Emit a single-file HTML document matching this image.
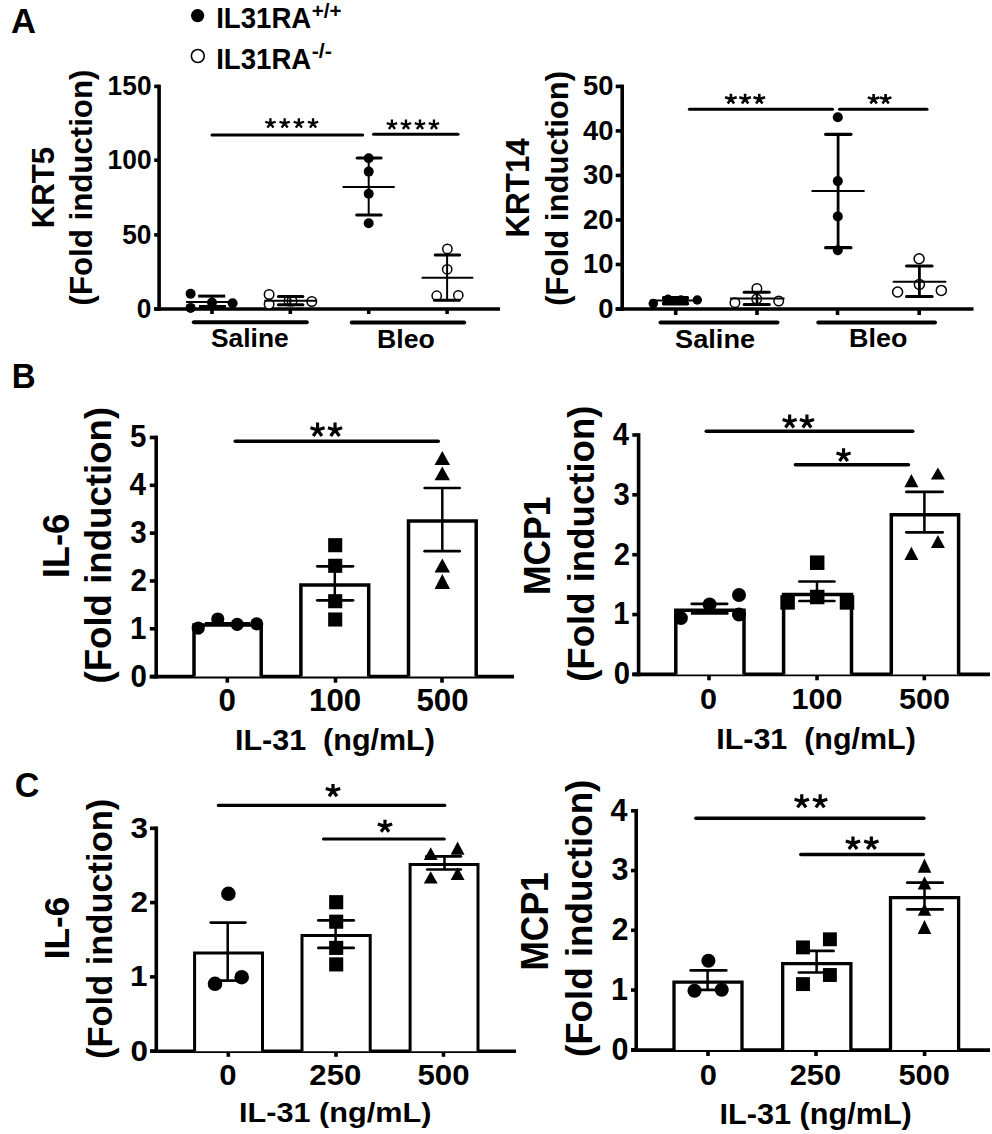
<!DOCTYPE html>
<html><head><meta charset="utf-8"><title>Figure</title>
<style>
html,body{margin:0;padding:0;background:#fff;}
body{width:992px;height:1134px;overflow:hidden;}
svg{display:block;}
text{font-family:"Liberation Sans",sans-serif;fill:#000;stroke:none;}
</style></head><body>
<svg width="992" height="1134" viewBox="0 0 992 1134">
<rect width="992" height="1134" fill="#fff"/>
<g stroke="#000" fill="none">
<text transform="translate(10.93,33) scale(1,1.0045)" font-size="34.63" font-weight="bold">A</text>
<text transform="translate(11.85,387.7) scale(1,1.0329)" font-size="33.11" font-weight="bold">B</text>
<text transform="translate(14.63,796.75) scale(1,1.0214)" font-size="34.2" font-weight="bold">C</text>
<circle cx="197.6" cy="15.6" r="6.65" fill="#000" stroke="none"/>
<circle cx="197.8" cy="56" r="6.45" fill="#fff" stroke-width="1.6"/>
<text transform="translate(216.21,28.11) scale(1,1.0563)" font-size="27.6" font-weight="bold">IL31RA</text>
<text transform="translate(311.77,17.69) scale(1,0.9941)" font-size="20.66" font-weight="bold">+/+</text>
<text transform="translate(216.21,68.71) scale(1,1.0512)" font-size="27.6" font-weight="bold">IL31RA</text>
<text transform="translate(311.74,58.49) scale(1,0.9665)" font-size="21.39" font-weight="bold">-/-</text>
<text transform="translate(54.18,228.33) rotate(-90) scale(1,1.0305)" font-size="31.19" font-weight="bold">KRT5</text>
<text transform="translate(91.75,305.46) rotate(-90) scale(1,0.9825)" font-size="31.24" font-weight="bold">(Fold induction)</text>
<line x1="159.1" y1="84.6" x2="159.1" y2="310.8" stroke-width="3.6" stroke-linecap="butt"/>
<line x1="154.2" y1="309" x2="500" y2="309" stroke-width="3.6" stroke-linecap="butt"/>
<line x1="154.2" y1="86.4" x2="159.1" y2="86.4" stroke-width="3.6" stroke-linecap="butt"/>
<line x1="154.2" y1="160.2" x2="159.1" y2="160.2" stroke-width="3.6" stroke-linecap="butt"/>
<line x1="154.2" y1="234.9" x2="159.1" y2="234.9" stroke-width="3.6" stroke-linecap="butt"/>
<line x1="154.2" y1="309" x2="159.1" y2="309" stroke-width="3.6" stroke-linecap="butt"/>
<text transform="translate(107.62,95.16) scale(1,1.0526)" font-size="26.33" font-weight="bold">150</text>
<text transform="translate(107.62,168.96) scale(1,1.0526)" font-size="26.33" font-weight="bold">100</text>
<text transform="translate(122.23,243.66) scale(1,1.0526)" font-size="26.33" font-weight="bold">50</text>
<text transform="translate(136.84,317.76) scale(1,1.0526)" font-size="26.33" font-weight="bold">0</text>
<line x1="212" y1="309" x2="212" y2="314" stroke-width="3.6" stroke-linecap="butt"/>
<line x1="290.3" y1="309" x2="290.3" y2="314" stroke-width="3.6" stroke-linecap="butt"/>
<line x1="368.7" y1="309" x2="368.7" y2="314" stroke-width="3.6" stroke-linecap="butt"/>
<line x1="447.1" y1="309" x2="447.1" y2="314" stroke-width="3.6" stroke-linecap="butt"/>
<line x1="193.8" y1="322.3" x2="306.8" y2="322.3" stroke-width="4" stroke-linecap="round"/>
<line x1="351.7" y1="322.5" x2="464.2" y2="322.5" stroke-width="4" stroke-linecap="round"/>
<text transform="translate(211.01,347.05) scale(1,0.9602)" font-size="26.35" font-weight="bold">Saline</text>
<text transform="translate(377.07,347.64) scale(1,0.9904)" font-size="26.65" font-weight="bold">Bleo</text>
<line x1="212" y1="135" x2="362.7" y2="135" stroke-width="3" stroke-linecap="round"/>
<line x1="373.5" y1="134.2" x2="458" y2="134.2" stroke-width="3" stroke-linecap="round"/>
<path d="M270.45 123.45V118.25M270.45 123.45L275.65 121.76M270.45 123.45L265.25 121.76M270.45 123.45L273.5 127.65M270.45 123.45L267.4 127.65" stroke-width="2.33"/>
<path d="M284.65 123.45V118.25M284.65 123.45L289.85 121.76M284.65 123.45L279.45 121.76M284.65 123.45L287.7 127.65M284.65 123.45L281.6 127.65" stroke-width="2.33"/>
<path d="M298.85 123.45V118.25M298.85 123.45L304.05 121.76M298.85 123.45L293.65 121.76M298.85 123.45L301.9 127.65M298.85 123.45L295.8 127.65" stroke-width="2.33"/>
<path d="M313.05 123.45V118.25M313.05 123.45L318.25 121.76M313.05 123.45L307.85 121.76M313.05 123.45L316.1 127.65M313.05 123.45L310 127.65" stroke-width="2.33"/>
<path d="M391.95 124.75V119.55M391.95 124.75L397.15 123.06M391.95 124.75L386.75 123.06M391.95 124.75L395 128.95M391.95 124.75L388.9 128.95" stroke-width="2.33"/>
<path d="M405.95 124.75V119.55M405.95 124.75L411.15 123.06M405.95 124.75L400.75 123.06M405.95 124.75L409 128.95M405.95 124.75L402.9 128.95" stroke-width="2.33"/>
<path d="M419.95 124.75V119.55M419.95 124.75L425.15 123.06M419.95 124.75L414.75 123.06M419.95 124.75L423 128.95M419.95 124.75L416.9 128.95" stroke-width="2.33"/>
<path d="M433.95 124.75V119.55M433.95 124.75L439.15 123.06M433.95 124.75L428.75 123.06M433.95 124.75L437 128.95M433.95 124.75L430.9 128.95" stroke-width="2.33"/>
<circle cx="190.6" cy="293.8" r="5" fill="#000" stroke="none"/>
<circle cx="190.6" cy="307.9" r="5" fill="#000" stroke="none"/>
<circle cx="212" cy="302.6" r="5" fill="#000" stroke="none"/>
<circle cx="232.6" cy="303.3" r="5" fill="#000" stroke="none"/>
<line x1="198.2" y1="296.1" x2="225.2" y2="296.1" stroke-width="3" stroke-linecap="butt"/>
<line x1="186" y1="302" x2="235.8" y2="302" stroke-width="2" stroke-linecap="butt"/>
<line x1="199" y1="306.5" x2="226" y2="306.5" stroke-width="3" stroke-linecap="butt"/>
<line x1="212" y1="296" x2="212" y2="306.5" stroke-width="2.2" stroke-linecap="butt"/>
<circle cx="269.1" cy="294.5" r="4.75" fill="#fff" stroke-width="1.5"/>
<circle cx="269.1" cy="304.3" r="4.75" fill="#fff" stroke-width="1.5"/>
<circle cx="289" cy="301" r="4.75" fill="#fff" stroke-width="1.5"/>
<circle cx="292" cy="301" r="4.75" fill="#fff" stroke-width="1.5"/>
<circle cx="311.8" cy="301.5" r="4.75" fill="#fff" stroke-width="1.5"/>
<line x1="278.4" y1="296.4" x2="302.9" y2="296.4" stroke-width="3" stroke-linecap="round"/>
<line x1="264.2" y1="300.8" x2="316.4" y2="300.8" stroke-width="2" stroke-linecap="butt"/>
<line x1="278.4" y1="304.7" x2="302.9" y2="304.7" stroke-width="3" stroke-linecap="round"/>
<line x1="290.3" y1="296.4" x2="290.3" y2="304.7" stroke-width="2" stroke-linecap="butt"/>
<circle cx="368.7" cy="158.3" r="5" fill="#000" stroke="none"/>
<circle cx="368.7" cy="171.6" r="5" fill="#000" stroke="none"/>
<circle cx="368.7" cy="193.8" r="5" fill="#000" stroke="none"/>
<circle cx="368.7" cy="223.2" r="5" fill="#000" stroke="none"/>
<line x1="357.1" y1="158.1" x2="381.1" y2="158.1" stroke-width="3" stroke-linecap="round"/>
<line x1="343.3" y1="187.1" x2="394" y2="187.1" stroke-width="2" stroke-linecap="round"/>
<line x1="356.7" y1="215" x2="381.1" y2="215" stroke-width="3" stroke-linecap="round"/>
<line x1="368.7" y1="158" x2="368.7" y2="215" stroke-width="2" stroke-linecap="butt"/>
<circle cx="447.4" cy="248.9" r="4.65" fill="#fff" stroke-width="1.5"/>
<circle cx="447.2" cy="269.3" r="4.65" fill="#fff" stroke-width="1.5"/>
<circle cx="436.7" cy="295.7" r="4.65" fill="#fff" stroke-width="1.5"/>
<circle cx="458.3" cy="295.3" r="4.65" fill="#fff" stroke-width="1.5"/>
<line x1="435.2" y1="254.9" x2="459.6" y2="254.9" stroke-width="3" stroke-linecap="round"/>
<line x1="422.4" y1="277.7" x2="472.5" y2="277.7" stroke-width="2" stroke-linecap="round"/>
<line x1="434.5" y1="300.2" x2="459.2" y2="300.2" stroke-width="3" stroke-linecap="round"/>
<line x1="447.1" y1="254.9" x2="447.1" y2="300.2" stroke-width="2" stroke-linecap="butt"/>
<text transform="translate(528.7,237.54) rotate(-90) scale(1,1.0440)" font-size="31.37" font-weight="bold">KRT14</text>
<text transform="translate(567.86,305.86) rotate(-90) scale(1,0.9997)" font-size="31.13" font-weight="bold">(Fold induction)</text>
<line x1="622.2" y1="84.6" x2="622.2" y2="310.8" stroke-width="3.6" stroke-linecap="butt"/>
<line x1="615.7" y1="309" x2="973.5" y2="309" stroke-width="3.6" stroke-linecap="butt"/>
<line x1="615.7" y1="309" x2="622.2" y2="309" stroke-width="3.6" stroke-linecap="butt"/>
<line x1="615.7" y1="264.48" x2="622.2" y2="264.48" stroke-width="3.6" stroke-linecap="butt"/>
<line x1="615.7" y1="219.96" x2="622.2" y2="219.96" stroke-width="3.6" stroke-linecap="butt"/>
<line x1="615.7" y1="175.44" x2="622.2" y2="175.44" stroke-width="3.6" stroke-linecap="butt"/>
<line x1="615.7" y1="130.92" x2="622.2" y2="130.92" stroke-width="3.6" stroke-linecap="butt"/>
<line x1="615.7" y1="86.4" x2="622.2" y2="86.4" stroke-width="3.6" stroke-linecap="butt"/>
<text transform="translate(598.17,317.76) scale(1,1.0101)" font-size="27.44" font-weight="bold">0</text>
<text transform="translate(582.94,273.24) scale(1,1.0101)" font-size="27.44" font-weight="bold">10</text>
<text transform="translate(582.94,228.72) scale(1,1.0101)" font-size="27.44" font-weight="bold">20</text>
<text transform="translate(582.94,184.2) scale(1,1.0101)" font-size="27.44" font-weight="bold">30</text>
<text transform="translate(582.94,139.68) scale(1,1.0101)" font-size="27.44" font-weight="bold">40</text>
<text transform="translate(582.94,95.16) scale(1,1.0101)" font-size="27.44" font-weight="bold">50</text>
<line x1="675.7" y1="309" x2="675.7" y2="315" stroke-width="3.6" stroke-linecap="butt"/>
<line x1="757" y1="309" x2="757" y2="315" stroke-width="3.6" stroke-linecap="butt"/>
<line x1="837.5" y1="309" x2="837.5" y2="315" stroke-width="3.6" stroke-linecap="butt"/>
<line x1="919.2" y1="309" x2="919.2" y2="315" stroke-width="3.6" stroke-linecap="butt"/>
<line x1="660.5" y1="322.5" x2="777.5" y2="322.5" stroke-width="4" stroke-linecap="round"/>
<line x1="818.3" y1="322.6" x2="935" y2="322.6" stroke-width="4" stroke-linecap="round"/>
<text transform="translate(674.98,347.74) scale(1,0.9646)" font-size="27.22" font-weight="bold">Saline</text>
<text transform="translate(849.05,347.24) scale(1,0.9494)" font-size="26.94" font-weight="bold">Bleo</text>
<line x1="689.4" y1="109.2" x2="832.6" y2="109.2" stroke-width="3" stroke-linecap="round"/>
<line x1="839.5" y1="109.2" x2="927" y2="109.2" stroke-width="3" stroke-linecap="round"/>
<path d="M730.9 99.06V93.69M730.9 99.06L736.71 97.18M730.9 99.06L725.09 97.18M730.9 99.06L734.06 103.41M730.9 99.06L727.74 103.41" stroke-width="2.6"/>
<path d="M745.1 99.06V93.69M745.1 99.06L750.91 97.18M745.1 99.06L739.29 97.18M745.1 99.06L748.26 103.41M745.1 99.06L741.94 103.41" stroke-width="2.6"/>
<path d="M759.3 99.06V93.69M759.3 99.06L765.11 97.18M759.3 99.06L753.49 97.18M759.3 99.06L762.46 103.41M759.3 99.06L756.14 103.41" stroke-width="2.6"/>
<path d="M873.6 99.26V93.89M873.6 99.26L879.41 97.38M873.6 99.26L867.79 97.38M873.6 99.26L876.76 103.61M873.6 99.26L870.44 103.61" stroke-width="2.6"/>
<path d="M885.6 99.26V93.89M885.6 99.26L891.41 97.38M885.6 99.26L879.79 97.38M885.6 99.26L888.76 103.61M885.6 99.26L882.44 103.61" stroke-width="2.6"/>
<line x1="662" y1="298" x2="689" y2="298" stroke-width="3" stroke-linecap="butt"/>
<line x1="650" y1="300.5" x2="700" y2="300.5" stroke-width="2" stroke-linecap="butt"/>
<line x1="662" y1="303.5" x2="689" y2="303.5" stroke-width="3" stroke-linecap="butt"/>
<rect x="663" y="296" width="25" height="9.5" fill="#000" stroke="none"/>
<circle cx="653.3" cy="303.6" r="4.75" fill="#000" stroke="none"/>
<circle cx="668" cy="299.3" r="4.75" fill="#000" stroke="none"/>
<circle cx="681" cy="300" r="4.75" fill="#000" stroke="none"/>
<circle cx="697.3" cy="300" r="4.75" fill="#000" stroke="none"/>
<line x1="675.5" y1="296" x2="675.5" y2="305" stroke-width="2.5" stroke-linecap="butt"/>
<circle cx="756.9" cy="288.5" r="4.75" fill="#fff" stroke-width="1.5"/>
<circle cx="734.9" cy="302.7" r="4.75" fill="#fff" stroke-width="1.5"/>
<circle cx="778.7" cy="301" r="4.75" fill="#fff" stroke-width="1.5"/>
<circle cx="756.7" cy="299" r="4.75" fill="#fff" stroke-width="1.5"/>
<line x1="744.1" y1="292.2" x2="769.3" y2="292.2" stroke-width="3" stroke-linecap="round"/>
<line x1="730" y1="298.4" x2="784.5" y2="298.4" stroke-width="2" stroke-linecap="butt"/>
<line x1="744.1" y1="304.5" x2="769.3" y2="304.5" stroke-width="3" stroke-linecap="round"/>
<line x1="757" y1="292.2" x2="757" y2="304.5" stroke-width="2.5" stroke-linecap="butt"/>
<circle cx="837.8" cy="117.2" r="5" fill="#000" stroke="none"/>
<circle cx="837.8" cy="181.1" r="5" fill="#000" stroke="none"/>
<circle cx="837.8" cy="216.4" r="5" fill="#000" stroke="none"/>
<circle cx="837.8" cy="250.3" r="5" fill="#000" stroke="none"/>
<line x1="825.6" y1="134.3" x2="850.9" y2="134.3" stroke-width="3.2" stroke-linecap="round"/>
<line x1="812.3" y1="191" x2="863.9" y2="191" stroke-width="2" stroke-linecap="round"/>
<line x1="825.6" y1="247.7" x2="850.9" y2="247.7" stroke-width="3.2" stroke-linecap="round"/>
<line x1="838.1" y1="134.3" x2="838.1" y2="247.7" stroke-width="2.8" stroke-linecap="butt"/>
<circle cx="919.1" cy="258.7" r="5" fill="#fff" stroke-width="1.5"/>
<circle cx="919.4" cy="284.4" r="5" fill="#fff" stroke-width="1.5"/>
<circle cx="897.6" cy="292" r="5" fill="#fff" stroke-width="1.5"/>
<circle cx="941.3" cy="290.4" r="5" fill="#fff" stroke-width="1.5"/>
<line x1="906.5" y1="266" x2="932.1" y2="266" stroke-width="3" stroke-linecap="round"/>
<line x1="893.5" y1="281.8" x2="945.5" y2="281.8" stroke-width="2" stroke-linecap="round"/>
<line x1="906.5" y1="296.6" x2="932.1" y2="296.6" stroke-width="3" stroke-linecap="round"/>
<line x1="919.4" y1="266" x2="919.4" y2="296.6" stroke-width="2.8" stroke-linecap="butt"/>
<text transform="translate(68.64,578.37) rotate(-90) scale(1,0.9978)" font-size="36.42" font-weight="bold">IL-6</text>
<text transform="translate(111.09,683.53) rotate(-90) scale(1,0.9894)" font-size="36.65" font-weight="bold">(Fold induction)</text>
<line x1="156.2" y1="435.6" x2="156.2" y2="678.4" stroke-width="3.6" stroke-linecap="butt"/>
<line x1="149.8" y1="676.6" x2="514" y2="676.6" stroke-width="3.6" stroke-linecap="butt"/>
<line x1="149.8" y1="676.6" x2="156.2" y2="676.6" stroke-width="3.6" stroke-linecap="butt"/>
<line x1="149.8" y1="628.78" x2="156.2" y2="628.78" stroke-width="3.6" stroke-linecap="butt"/>
<line x1="149.8" y1="580.96" x2="156.2" y2="580.96" stroke-width="3.6" stroke-linecap="butt"/>
<line x1="149.8" y1="533.14" x2="156.2" y2="533.14" stroke-width="3.6" stroke-linecap="butt"/>
<line x1="149.8" y1="485.32" x2="156.2" y2="485.32" stroke-width="3.6" stroke-linecap="butt"/>
<line x1="149.8" y1="437.5" x2="156.2" y2="437.5" stroke-width="3.6" stroke-linecap="butt"/>
<text transform="translate(130.49,686.64) scale(1,1.0638)" font-size="29.54" font-weight="bold">0</text>
<text transform="translate(130.04,638.82) scale(1,1.0638)" font-size="29.54" font-weight="bold">1</text>
<text transform="translate(130.49,591.16) scale(1,1.0638)" font-size="29.54" font-weight="bold">2</text>
<text transform="translate(130.34,543.18) scale(1,1.0638)" font-size="29.54" font-weight="bold">3</text>
<text transform="translate(129.45,495.36) scale(1,1.0638)" font-size="29.54" font-weight="bold">4</text>
<text transform="translate(130.04,447.39) scale(1,1.0638)" font-size="29.54" font-weight="bold">5</text>
<line x1="227.3" y1="676.6" x2="227.3" y2="682.7" stroke-width="3.6" stroke-linecap="butt"/>
<line x1="335.5" y1="676.6" x2="335.5" y2="682.7" stroke-width="3.6" stroke-linecap="butt"/>
<line x1="442" y1="676.6" x2="442" y2="682.7" stroke-width="3.6" stroke-linecap="butt"/>
<path d="M194 676.6V625.1H261.2V676.6" fill="#fff" stroke-width="3.5" stroke-linejoin="miter"/>
<path d="M300.9 676.6V584.9H368.7V676.6" fill="#fff" stroke-width="3.5" stroke-linejoin="miter"/>
<path d="M408.5 676.6V521.1H476.2V676.6" fill="#fff" stroke-width="3.5" stroke-linejoin="miter"/>
<text transform="translate(218.62,710.89) scale(1,1.0000)" font-size="31.27" font-weight="bold">0</text>
<text transform="translate(309.08,710.89) scale(1,1.0000)" font-size="31.27" font-weight="bold">100</text>
<text transform="translate(416.43,710.89) scale(1,1.0000)" font-size="31.27" font-weight="bold">500</text>
<text transform="translate(235.02,749.69) scale(1,0.9855)" font-size="30.5" font-weight="bold">IL-31 &#160;(ng/mL)</text>
<line x1="235.25" y1="441.3" x2="438.25" y2="441.3" stroke-width="3.5" stroke-linecap="round"/>
<path d="M317.55 430.01V422.58M317.55 430.01L324.62 427.71M317.55 430.01L310.48 427.71M317.55 430.01L321.92 436.02M317.55 430.01L313.18 436.02" stroke-width="3.17"/>
<path d="M335.05 430.01V422.58M335.05 430.01L342.12 427.71M335.05 430.01L327.98 427.71M335.05 430.01L339.42 436.02M335.05 430.01L330.68 436.02" stroke-width="3.17"/>
<line x1="205" y1="623.2" x2="250" y2="623.2" stroke-width="2.5" stroke-linecap="butt"/>
<circle cx="198.2" cy="628.1" r="6.6" fill="#000" stroke="none"/>
<circle cx="217.8" cy="619" r="6.6" fill="#000" stroke="none"/>
<circle cx="237.2" cy="624.3" r="6.6" fill="#000" stroke="none"/>
<circle cx="256.7" cy="623.8" r="6.6" fill="#000" stroke="none"/>
<line x1="317.25" y1="566.3" x2="353.05" y2="566.3" stroke-width="2.7" stroke-linecap="round"/>
<line x1="317.25" y1="600.3" x2="353.05" y2="600.3" stroke-width="2.7" stroke-linecap="round"/>
<line x1="334.8" y1="566.3" x2="334.8" y2="600.3" stroke-width="2.5" stroke-linecap="butt"/>
<rect x="328.15" y="538.15" width="14.1" height="14.1" fill="#000" stroke="none"/>
<rect x="328.15" y="558.75" width="14.1" height="14.1" fill="#000" stroke="none"/>
<rect x="328.15" y="594.15" width="14.1" height="14.1" fill="#000" stroke="none"/>
<rect x="328.15" y="612.45" width="14.1" height="14.1" fill="#000" stroke="none"/>
<line x1="424.65" y1="488" x2="459.65" y2="488" stroke-width="2.7" stroke-linecap="round"/>
<line x1="424.65" y1="551.2" x2="459.65" y2="551.2" stroke-width="2.7" stroke-linecap="round"/>
<line x1="442.3" y1="488" x2="442.3" y2="551.2" stroke-width="2.5" stroke-linecap="butt"/>
<path d="M442.3 451L450.05 465.1L434.55 465.1Z" fill="#000" stroke="none"/>
<path d="M442.3 466.5L450.05 480.2L434.55 480.2Z" fill="#000" stroke="none"/>
<path d="M442.3 558.5L450.05 572.6L434.55 572.6Z" fill="#000" stroke="none"/>
<path d="M442.3 574L450.05 588.9L434.55 588.9Z" fill="#000" stroke="none"/>
<text transform="translate(550.23,595.1) rotate(-90) scale(1,1.0487)" font-size="35.46" font-weight="bold">MCP1</text>
<text transform="translate(594.38,681.83) rotate(-90) scale(1,1.0171)" font-size="36.59" font-weight="bold">(Fold induction)</text>
<line x1="638.6" y1="433.2" x2="638.6" y2="676.2" stroke-width="3.6" stroke-linecap="butt"/>
<line x1="632.3" y1="674.4" x2="990" y2="674.4" stroke-width="3.6" stroke-linecap="butt"/>
<line x1="632.3" y1="674.4" x2="638.6" y2="674.4" stroke-width="3.6" stroke-linecap="butt"/>
<line x1="632.3" y1="614.55" x2="638.6" y2="614.55" stroke-width="3.6" stroke-linecap="butt"/>
<line x1="632.3" y1="554.7" x2="638.6" y2="554.7" stroke-width="3.6" stroke-linecap="butt"/>
<line x1="632.3" y1="494.85" x2="638.6" y2="494.85" stroke-width="3.6" stroke-linecap="butt"/>
<line x1="632.3" y1="435" x2="638.6" y2="435" stroke-width="3.6" stroke-linecap="butt"/>
<text transform="translate(613.72,684.34) scale(1,1.0638)" font-size="29.27" font-weight="bold">0</text>
<text transform="translate(613.28,624.49) scale(1,1.0638)" font-size="29.27" font-weight="bold">1</text>
<text transform="translate(613.72,564.8) scale(1,1.0638)" font-size="29.27" font-weight="bold">2</text>
<text transform="translate(613.58,504.79) scale(1,1.0638)" font-size="29.27" font-weight="bold">3</text>
<text transform="translate(612.7,444.94) scale(1,1.0638)" font-size="29.27" font-weight="bold">4</text>
<line x1="709" y1="674.4" x2="709" y2="680.3" stroke-width="3.6" stroke-linecap="butt"/>
<line x1="817" y1="674.4" x2="817" y2="680.3" stroke-width="3.6" stroke-linecap="butt"/>
<line x1="924.3" y1="674.4" x2="924.3" y2="680.3" stroke-width="3.6" stroke-linecap="butt"/>
<path d="M675.8 674.4V610.2H744V674.4" fill="#fff" stroke-width="3.5" stroke-linejoin="miter"/>
<path d="M783.6 674.4V594.5H851.5V674.4" fill="#fff" stroke-width="3.5" stroke-linejoin="miter"/>
<path d="M891.3 674.4V514.8H958.6V674.4" fill="#fff" stroke-width="3.5" stroke-linejoin="miter"/>
<text transform="translate(700.11,708.6) scale(1,0.9804)" font-size="30.6" font-weight="bold">0</text>
<text transform="translate(791.54,708.6) scale(1,0.9804)" font-size="30.6" font-weight="bold">100</text>
<text transform="translate(898.98,708.6) scale(1,0.9804)" font-size="30.6" font-weight="bold">500</text>
<text transform="translate(716.22,748.73) scale(1,0.9794)" font-size="30.47" font-weight="bold">IL-31 &#160;(ng/mL)</text>
<line x1="706.25" y1="431.2" x2="912.75" y2="431.2" stroke-width="3.5" stroke-linecap="round"/>
<line x1="795.35" y1="464.8" x2="908.45" y2="464.8" stroke-width="3.5" stroke-linecap="round"/>
<path d="M789.65 421.73V414.58M789.65 421.73L796.72 419.43M789.65 421.73L782.58 419.43M789.65 421.73L793.86 427.52M789.65 421.73L785.44 427.52" stroke-width="3.17"/>
<path d="M806.95 421.73V414.58M806.95 421.73L814.02 419.43M806.95 421.73L799.88 419.43M806.95 421.73L811.16 427.52M806.95 421.73L802.74 427.52" stroke-width="3.17"/>
<path d="M843.55 455.32V448.28M843.55 455.32L850.62 453.02M843.55 455.32L836.48 453.02M843.55 455.32L847.69 461.02M843.55 455.32L839.41 461.02" stroke-width="3.17"/>
<line x1="691.75" y1="603.8" x2="727.15" y2="603.8" stroke-width="2.7" stroke-linecap="round"/>
<line x1="690.9" y1="613.4" x2="728.5" y2="613.4" stroke-width="2.8" stroke-linecap="butt"/>
<line x1="709.6" y1="603.8" x2="709.6" y2="613.4" stroke-width="2.5" stroke-linecap="butt"/>
<circle cx="680.9" cy="618.1" r="7" fill="#000" stroke="none"/>
<circle cx="709.6" cy="604.5" r="7" fill="#000" stroke="none"/>
<circle cx="739" cy="595" r="7" fill="#000" stroke="none"/>
<circle cx="739" cy="614.5" r="7" fill="#000" stroke="none"/>
<line x1="799.35" y1="581.5" x2="834.45" y2="581.5" stroke-width="2.7" stroke-linecap="round"/>
<line x1="799.35" y1="601" x2="834.45" y2="601" stroke-width="2.7" stroke-linecap="round"/>
<line x1="817" y1="581.5" x2="817" y2="601" stroke-width="2.5" stroke-linecap="butt"/>
<rect x="809.95" y="555.45" width="14.5" height="14.5" fill="#000" stroke="none"/>
<rect x="780.35" y="595.15" width="14.5" height="14.5" fill="#000" stroke="none"/>
<rect x="809.95" y="589.75" width="14.5" height="14.5" fill="#000" stroke="none"/>
<rect x="839.75" y="595.15" width="14.5" height="14.5" fill="#000" stroke="none"/>
<line x1="906.35" y1="491.8" x2="942.65" y2="491.8" stroke-width="2.7" stroke-linecap="round"/>
<line x1="906.35" y1="532.3" x2="942.65" y2="532.3" stroke-width="2.7" stroke-linecap="round"/>
<line x1="924.4" y1="491.8" x2="924.4" y2="532.3" stroke-width="2.5" stroke-linecap="butt"/>
<path d="M911.4 474L918.4 487.3L904.4 487.3Z" fill="#000" stroke="none"/>
<path d="M937.9 467.5L944.9 479.4L930.9 479.4Z" fill="#000" stroke="none"/>
<path d="M937.9 535L944.9 548L930.9 548Z" fill="#000" stroke="none"/>
<path d="M911.4 546.8L918.4 560L904.4 560Z" fill="#000" stroke="none"/>
<text transform="translate(68.54,959.29) rotate(-90) scale(1,1.0214)" font-size="35.16" font-weight="bold">IL-6</text>
<text transform="translate(112.39,1058.92) rotate(-90) scale(1,1.0246)" font-size="34.45" font-weight="bold">(Fold induction)</text>
<line x1="156.3" y1="826.6" x2="156.3" y2="1053" stroke-width="3.6" stroke-linecap="butt"/>
<line x1="150" y1="1051.2" x2="516" y2="1051.2" stroke-width="3.6" stroke-linecap="butt"/>
<line x1="150" y1="1051.2" x2="156.3" y2="1051.2" stroke-width="3.6" stroke-linecap="butt"/>
<line x1="150" y1="976.9" x2="156.3" y2="976.9" stroke-width="3.6" stroke-linecap="butt"/>
<line x1="150" y1="902.6" x2="156.3" y2="902.6" stroke-width="3.6" stroke-linecap="butt"/>
<line x1="150" y1="828.3" x2="156.3" y2="828.3" stroke-width="3.6" stroke-linecap="butt"/>
<text transform="translate(130.58,1060.55) scale(1,0.9346)" font-size="31.49" font-weight="bold">0</text>
<text transform="translate(130.11,986.25) scale(1,0.9346)" font-size="31.49" font-weight="bold">1</text>
<text transform="translate(130.58,912.1) scale(1,0.9346)" font-size="31.49" font-weight="bold">2</text>
<text transform="translate(130.43,837.65) scale(1,0.9346)" font-size="31.49" font-weight="bold">3</text>
<line x1="228.3" y1="1051.2" x2="228.3" y2="1056.8" stroke-width="3.6" stroke-linecap="butt"/>
<line x1="336" y1="1051.2" x2="336" y2="1056.8" stroke-width="3.6" stroke-linecap="butt"/>
<line x1="443.5" y1="1051.2" x2="443.5" y2="1056.8" stroke-width="3.6" stroke-linecap="butt"/>
<path d="M194.6 1051.2V953.1H262.5V1051.2" fill="#fff" stroke-width="3" stroke-linejoin="miter"/>
<path d="M302 1051.2V935.5H370.2V1051.2" fill="#fff" stroke-width="3" stroke-linejoin="miter"/>
<path d="M410.1 1051.2V864.5H478V1051.2" fill="#fff" stroke-width="3" stroke-linejoin="miter"/>
<text transform="translate(219.34,1084.91) scale(1,0.9434)" font-size="31.2" font-weight="bold">0</text>
<text transform="translate(309.3,1084.91) scale(1,0.9434)" font-size="31.2" font-weight="bold">250</text>
<text transform="translate(417.48,1084.91) scale(1,0.9434)" font-size="31.2" font-weight="bold">500</text>
<text transform="translate(239.01,1121.89) scale(1,0.9175)" font-size="30.66" font-weight="bold">IL-31 (ng/mL)</text>
<line x1="218.4" y1="805.4" x2="444.8" y2="805.4" stroke-width="3.2" stroke-linecap="round"/>
<line x1="323.5" y1="839" x2="444.2" y2="839" stroke-width="3.2" stroke-linecap="round"/>
<path d="M333 790.79V784.09M333 790.79L340.21 788.45M333 790.79L325.79 788.45M333 790.79L336.94 796.21M333 790.79L329.06 796.21" stroke-width="3.23"/>
<path d="M385 826.39V819.69M385 826.39L392.21 824.05M385 826.39L377.79 824.05M385 826.39L388.94 831.81M385 826.39L381.06 831.81" stroke-width="3.23"/>
<line x1="210.75" y1="922.6" x2="245.35" y2="922.6" stroke-width="2.7" stroke-linecap="round"/>
<line x1="212" y1="980.6" x2="244" y2="980.6" stroke-width="2.7" stroke-linecap="butt"/>
<line x1="227.7" y1="922.6" x2="227.7" y2="980.6" stroke-width="2.5" stroke-linecap="butt"/>
<circle cx="228.4" cy="893.8" r="7.3" fill="#000" stroke="none"/>
<circle cx="215" cy="983.8" r="7.3" fill="#000" stroke="none"/>
<circle cx="241.7" cy="977.2" r="7.3" fill="#000" stroke="none"/>
<line x1="318.35" y1="920.4" x2="353.75" y2="920.4" stroke-width="2.7" stroke-linecap="round"/>
<line x1="318.35" y1="947.9" x2="353.75" y2="947.9" stroke-width="2.7" stroke-linecap="round"/>
<line x1="335.6" y1="920.4" x2="335.6" y2="947.9" stroke-width="2.5" stroke-linecap="butt"/>
<rect x="329.15" y="895.15" width="14.1" height="14.1" fill="#000" stroke="none"/>
<rect x="329.15" y="914.65" width="14.1" height="14.1" fill="#000" stroke="none"/>
<rect x="329.15" y="940.85" width="14.1" height="14.1" fill="#000" stroke="none"/>
<rect x="329.15" y="957.35" width="14.1" height="14.1" fill="#000" stroke="none"/>
<line x1="426.35" y1="856.3" x2="460.85" y2="856.3" stroke-width="2.7" stroke-linecap="round"/>
<line x1="427.25" y1="869.5" x2="460.85" y2="869.5" stroke-width="2.7" stroke-linecap="round"/>
<line x1="444.5" y1="856.3" x2="444.5" y2="869.5" stroke-width="2.5" stroke-linecap="butt"/>
<path d="M430.7 847.2L437.65 859.9L423.75 859.9Z" fill="#000" stroke="none"/>
<path d="M457.6 841.6L464.55 854.7L450.65 854.7Z" fill="#000" stroke="none"/>
<path d="M430.7 871.3L437.65 883.5L423.75 883.5Z" fill="#000" stroke="none"/>
<path d="M457.6 867.2L464.55 879.9L450.65 879.9Z" fill="#000" stroke="none"/>
<text transform="translate(548.42,970.6) rotate(-90) scale(1,1.0867)" font-size="35.38" font-weight="bold">MCP1</text>
<text transform="translate(592.02,1057.04) rotate(-90) scale(1,1.0218)" font-size="36.74" font-weight="bold">(Fold induction)</text>
<line x1="636.2" y1="809" x2="636.2" y2="1051.9" stroke-width="3.6" stroke-linecap="butt"/>
<line x1="631" y1="1050.1" x2="990" y2="1050.1" stroke-width="3.6" stroke-linecap="butt"/>
<line x1="631" y1="1049.8" x2="636.2" y2="1049.8" stroke-width="3.6" stroke-linecap="butt"/>
<line x1="631" y1="990.05" x2="636.2" y2="990.05" stroke-width="3.6" stroke-linecap="butt"/>
<line x1="631" y1="930.3" x2="636.2" y2="930.3" stroke-width="3.6" stroke-linecap="butt"/>
<line x1="631" y1="870.55" x2="636.2" y2="870.55" stroke-width="3.6" stroke-linecap="butt"/>
<line x1="631" y1="810.8" x2="636.2" y2="810.8" stroke-width="3.6" stroke-linecap="butt"/>
<text transform="translate(611.56,1059.55) scale(1,1.0000)" font-size="30.57" font-weight="bold">0</text>
<text transform="translate(611.1,999.8) scale(1,1.0000)" font-size="30.57" font-weight="bold">1</text>
<text transform="translate(611.56,940.2) scale(1,1.0000)" font-size="30.57" font-weight="bold">2</text>
<text transform="translate(611.4,880.3) scale(1,1.0000)" font-size="30.57" font-weight="bold">3</text>
<text transform="translate(610.49,820.55) scale(1,1.0000)" font-size="30.57" font-weight="bold">4</text>
<line x1="708" y1="1050.1" x2="708" y2="1056" stroke-width="3.6" stroke-linecap="butt"/>
<line x1="816" y1="1050.1" x2="816" y2="1056" stroke-width="3.6" stroke-linecap="butt"/>
<line x1="924.6" y1="1050.1" x2="924.6" y2="1056" stroke-width="3.6" stroke-linecap="butt"/>
<path d="M674 1050.1V982.2H742V1050.1" fill="#fff" stroke-width="3.3" stroke-linejoin="miter"/>
<path d="M782.7 1050.1V963.6H850.9V1050.1" fill="#fff" stroke-width="3.3" stroke-linejoin="miter"/>
<path d="M890.5 1050.1V897.6H958.6V1050.1" fill="#fff" stroke-width="3.3" stroke-linejoin="miter"/>
<text transform="translate(699.73,1085.4) scale(1,0.9804)" font-size="30.89" font-weight="bold">0</text>
<text transform="translate(789.66,1085.4) scale(1,0.9804)" font-size="30.89" font-weight="bold">250</text>
<text transform="translate(898.44,1085.4) scale(1,0.9804)" font-size="30.89" font-weight="bold">500</text>
<text transform="translate(719.51,1123.98) scale(1,0.9664)" font-size="30.66" font-weight="bold">IL-31 (ng/mL)</text>
<line x1="695.85" y1="818.2" x2="923.85" y2="818.2" stroke-width="3.5" stroke-linecap="round"/>
<line x1="800.85" y1="854.6" x2="923.25" y2="854.6" stroke-width="3.5" stroke-linecap="round"/>
<path d="M801.75 801.54V794.28M801.75 801.54L808.92 799.21M801.75 801.54L794.58 799.21M801.75 801.54L806.02 807.42M801.75 801.54L797.48 807.42" stroke-width="3.21"/>
<path d="M820.15 801.54V794.28M820.15 801.54L827.32 799.21M820.15 801.54L812.98 799.21M820.15 801.54L824.42 807.42M820.15 801.54L815.88 807.42" stroke-width="3.21"/>
<path d="M852.95 843.37V836.38M852.95 843.37L860.12 841.04M852.95 843.37L845.78 841.04M852.95 843.37L857.06 849.02M852.95 843.37L848.84 849.02" stroke-width="3.21"/>
<path d="M871.35 843.37V836.38M871.35 843.37L878.52 841.04M871.35 843.37L864.18 841.04M871.35 843.37L875.46 849.02M871.35 843.37L867.24 849.02" stroke-width="3.21"/>
<line x1="690.65" y1="970.4" x2="726.25" y2="970.4" stroke-width="2.7" stroke-linecap="round"/>
<line x1="689.3" y1="989.9" x2="727.6" y2="989.9" stroke-width="2.7" stroke-linecap="butt"/>
<line x1="707.6" y1="970.4" x2="707.6" y2="989.9" stroke-width="2.5" stroke-linecap="butt"/>
<circle cx="708.4" cy="960.7" r="7.05" fill="#000" stroke="none"/>
<circle cx="694.5" cy="990.8" r="7.05" fill="#000" stroke="none"/>
<circle cx="721.7" cy="989.7" r="7.05" fill="#000" stroke="none"/>
<line x1="798.35" y1="950.9" x2="833.55" y2="950.9" stroke-width="2.7" stroke-linecap="round"/>
<line x1="798.85" y1="972.5" x2="833.55" y2="972.5" stroke-width="2.7" stroke-linecap="round"/>
<line x1="816.6" y1="950.9" x2="816.6" y2="972.5" stroke-width="2.5" stroke-linecap="butt"/>
<rect x="796.05" y="940.45" width="13.9" height="13.9" fill="#000" stroke="none"/>
<rect x="822.95" y="932.35" width="13.9" height="13.9" fill="#000" stroke="none"/>
<rect x="822.95" y="968.05" width="13.9" height="13.9" fill="#000" stroke="none"/>
<rect x="796.05" y="977.15" width="13.9" height="13.9" fill="#000" stroke="none"/>
<line x1="907.25" y1="882.7" x2="942.65" y2="882.7" stroke-width="2.7" stroke-linecap="round"/>
<line x1="907.25" y1="909.4" x2="942.65" y2="909.4" stroke-width="2.7" stroke-linecap="round"/>
<line x1="924.5" y1="882.7" x2="924.5" y2="909.4" stroke-width="2.5" stroke-linecap="butt"/>
<path d="M924.5 858.6L931.3 872.7L917.7 872.7Z" fill="#000" stroke="none"/>
<path d="M924.5 876.3L931.3 889.5L917.7 889.5Z" fill="#000" stroke="none"/>
<path d="M924.5 903.5L931.3 915.8L917.7 915.8Z" fill="#000" stroke="none"/>
<path d="M924.5 919.9L931.3 933.9L917.7 933.9Z" fill="#000" stroke="none"/>
</g>
</svg>
</body></html>
